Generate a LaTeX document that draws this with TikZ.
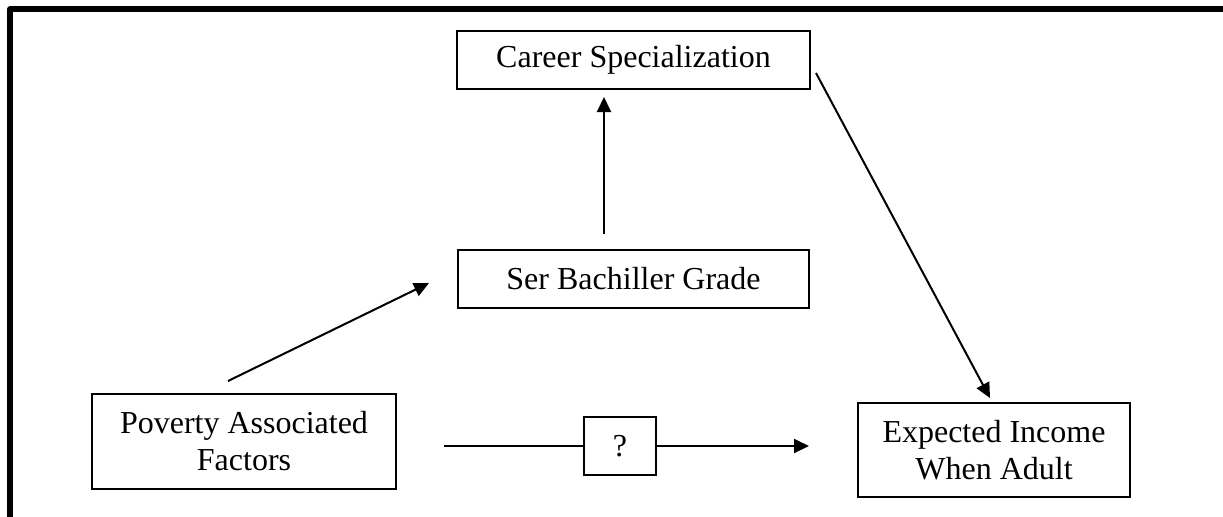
\documentclass[tikz,border=0pt]{standalone}
\usepackage{fontspec}
\setmainfont{Liberation Serif}
\usetikzlibrary{arrows.meta}

\begin{document}
\begin{tikzpicture}[x=0.5pt,y=-0.5pt,
  box/.style={draw, line width=1pt, rectangle, align=center, inner sep=0pt,
    font=\fontsize{16}{18.5}\selectfont},
  link/.style={line width=1pt},
  arr/.style={line width=1pt, -{Triangle[length=7.5pt,width=7pt]}},
  frame/.style={line width=2.6pt, line join=round}]

\useasboundingbox (0,0) rectangle (1223,516);

% outer frame (left and top edges)
\draw[frame] (10,540) -- (10,9) -- (1260,9);

% boxes
\node[box, minimum width=176.5pt, minimum height=29pt] (career) at (633.5,60) {Career Specialization};
\node[box, minimum width=175.5pt, minimum height=29pt] (ser) at (633.5,279) {Ser Bachiller Grade};
\node[box, minimum width=152pt, minimum height=47.5pt] (poverty) at (244,441.5) {Poverty Associated\\Factors};
\node[box, minimum width=36pt, minimum height=29pt] (q) at (620,446) {?};
\node[box, minimum width=136pt, minimum height=47pt] (expected) at (994,450) {Expected Income\\When Adult};

% free ends of the connectors
\coordinate (povOut) at (228,381);
\coordinate (serIn) at (429,283);
\coordinate (serOut) at (604,234);
\coordinate (carIn) at (604,97);
\coordinate (carOut) at (816,73);
\coordinate (expIn) at (990,398);
\coordinate (povRight) at (444,446);
\coordinate (expLeft) at (809,446);

% connectors
\draw[arr] (povOut) -- (serIn);
\draw[arr] (serOut) -- (carIn);
\draw[arr] (carOut) -- (expIn);
\draw[link] (povRight) -- (q.west);
\draw[arr] (q.east) -- (expLeft);
\end{tikzpicture}
\end{document}
